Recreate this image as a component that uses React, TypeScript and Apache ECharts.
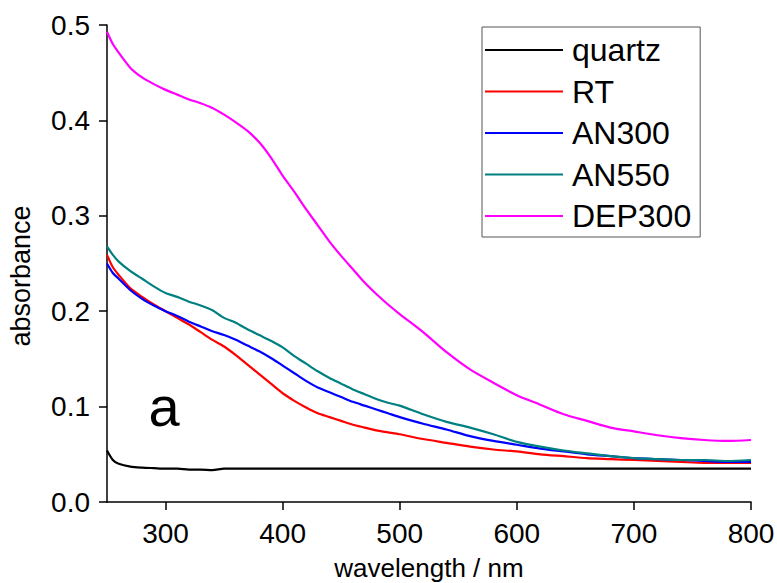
import React, { useEffect, useRef } from "react";
import * as echarts from "echarts";

// Wavelength grid (nm) shared by all spectra
const wavelength = [
  250, 255, 260, 270, 280, 290, 300, 310, 320, 330, 340, 350, 360, 370, 380, 390,
  400, 410, 420, 430, 440, 450, 460, 470, 480, 490, 500, 520, 540, 560, 580, 600,
  620, 640, 660, 680, 700, 720, 740, 760, 780, 800,
];

const quartz = [
  0.054, 0.044, 0.040, 0.037, 0.036, 0.0355, 0.035, 0.035, 0.034, 0.034, 0.0335, 0.035, 0.035, 0.035, 0.035, 0.035,
  0.035, 0.035, 0.035, 0.035, 0.035, 0.035, 0.035, 0.035, 0.035, 0.035, 0.035, 0.035, 0.035, 0.035, 0.035, 0.035,
  0.035, 0.035, 0.035, 0.035, 0.035, 0.035, 0.035, 0.035, 0.035, 0.035,
];

const rt = [
  0.259, 0.246, 0.238, 0.224, 0.215, 0.207, 0.200, 0.193, 0.186, 0.178, 0.170, 0.163, 0.154, 0.144, 0.134, 0.124,
  0.114, 0.106, 0.099, 0.093, 0.089, 0.085, 0.081, 0.078, 0.075, 0.073, 0.071, 0.066, 0.062, 0.058, 0.055, 0.053,
  0.050, 0.048, 0.046, 0.045, 0.044, 0.043, 0.042, 0.041, 0.041, 0.041,
];

const an300 = [
  0.250, 0.240, 0.234, 0.222, 0.213, 0.206, 0.200, 0.195, 0.189, 0.184, 0.179, 0.175, 0.170, 0.164, 0.158, 0.151,
  0.143, 0.135, 0.127, 0.120, 0.115, 0.110, 0.105, 0.101, 0.097, 0.093, 0.089, 0.082, 0.076, 0.069, 0.064, 0.060,
  0.056, 0.053, 0.050, 0.048, 0.046, 0.045, 0.044, 0.043, 0.042, 0.042,
];

const an550 = [
  0.268, 0.259, 0.252, 0.242, 0.234, 0.226, 0.219, 0.215, 0.210, 0.206, 0.201, 0.193, 0.188, 0.181, 0.175, 0.169,
  0.162, 0.153, 0.145, 0.137, 0.130, 0.124, 0.118, 0.113, 0.108, 0.104, 0.101, 0.092, 0.084, 0.078, 0.071, 0.063,
  0.058, 0.054, 0.051, 0.048, 0.046, 0.045, 0.044, 0.044, 0.043, 0.044,
];

const dep300 = [
  0.493, 0.480, 0.471, 0.455, 0.445, 0.438, 0.432, 0.427, 0.422, 0.418, 0.413, 0.406, 0.398, 0.389, 0.377, 0.361,
  0.342, 0.325, 0.307, 0.290, 0.273, 0.258, 0.244, 0.230, 0.218, 0.207, 0.197, 0.178, 0.157, 0.139, 0.125, 0.112,
  0.102, 0.092, 0.085, 0.078, 0.074, 0.070, 0.067, 0.065, 0.064, 0.065,
];

const seriesNames = ["quartz", "RT", "AN300", "AN550", "DEP300"];
const seriesValues = [quartz, rt, an300, an550, dep300];
const seriesColors = ["#000000", "#ff0000", "#0000ff", "#008080", "#ff00ff"];

const xTicks = [300, 400, 500, 600, 700, 800];

const FONT = "'Liberation Sans', Arial, Helvetica, sans-serif";

export default function App() {
  const ref = useRef<HTMLDivElement>(null);

  useEffect(() => {
    if (!ref.current) return;
    const chart = echarts.init(ref.current, undefined, { renderer: "svg" });

    chart.setOption({
      animation: false,
      backgroundColor: "#ffffff",
      textStyle: { fontFamily: FONT },
      grid: {
        left: 107,
        right: 26,
        top: 25,
        bottom: 81,
        containLabel: false,
        outerBoundsMode: "none",
      },
      legend: {
        orient: "vertical",
        left: 482,
        top: 27,
        data: seriesNames,
        icon: "rect",
        itemWidth: 78,
        itemHeight: 2,
        itemGap: 7.5,
        padding: [6, 9, 4, 3],
        borderColor: "#555555",
        borderWidth: 1,
        backgroundColor: "#ffffff",
        textStyle: { fontFamily: FONT, fontSize: 32, color: "#000", lineHeight: 34, padding: [0, 0, 0, 4] },
      },
      xAxis: {
        type: "value",
        min: 250,
        max: 800,
        name: "wavelength / nm",
        nameLocation: "middle",
        nameGap: 53,
        nameTextStyle: { fontFamily: FONT, fontSize: 26, color: "#000" },
        splitLine: { show: false },
        axisLine: { show: true, lineStyle: { color: "#000", width: 1.5 } },
        axisTick: {
          show: true,
          inside: false,
          length: 8,
          customValues: xTicks,
          lineStyle: { color: "#000", width: 1.5 },
        },
        axisLabel: {
          customValues: xTicks,
          margin: 17,
          fontFamily: FONT,
          fontSize: 28,
          color: "#000",
        },
      },
      yAxis: {
        type: "value",
        min: 0,
        max: 0.5,
        interval: 0.1,
        splitLine: { show: false },
        axisLine: { show: true, onZero: false, lineStyle: { color: "#000", width: 1.5 } },
        axisTick: { show: true, inside: false, length: 8, lineStyle: { color: "#000", width: 1.5 } },
        axisLabel: {
          margin: 17,
          fontFamily: FONT,
          fontSize: 28,
          color: "#000",
          formatter: (v: number) => v.toFixed(1),
        },
      },
      graphic: [
        {
          type: "text",
          x: 21,
          y: 276,
          rotation: Math.PI / 2,
          style: {
            text: "absorbance",
            font: `27px ${FONT}`,
            fill: "#000",
            align: "center",
            verticalAlign: "middle",
          },
        },
        {
          type: "text",
          x: 164,
          y: 406,
          style: {
            text: "a",
            font: `56px ${FONT}`,
            fill: "#000",
            align: "center",
            verticalAlign: "middle",
          },
        },
      ],
      series: seriesNames.map((name, i) => ({
        name,
        type: "line",
        data: wavelength.map((w, j) => [w, seriesValues[i][j]]),
        showSymbol: false,
        symbol: "none",
        smooth: 0.25,
        lineStyle: { color: seriesColors[i], width: 2.2 },
        itemStyle: { color: seriesColors[i] },
        z: 2 + i,
      })),
    });

    return () => chart.dispose();
  }, []);

  return (
    <div
      ref={ref}
      style={{ position: "fixed", left: 0, top: 0, width: 777, height: 583 }}
    />
  );
}
